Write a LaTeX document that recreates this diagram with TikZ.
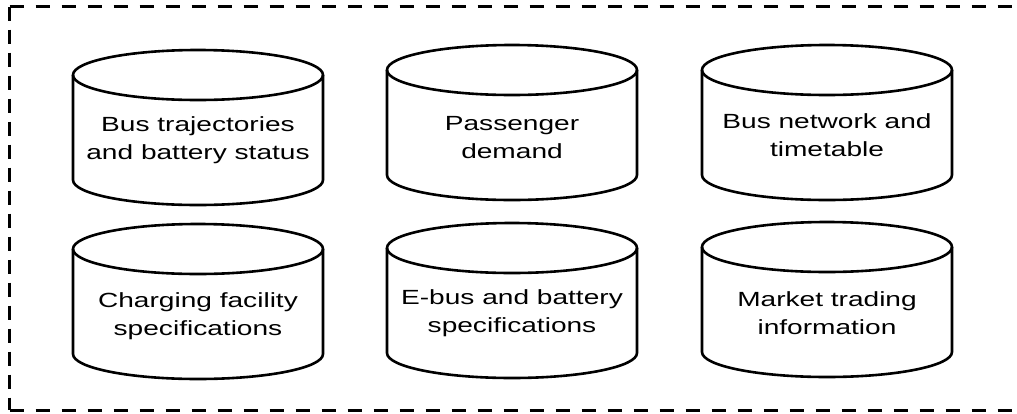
\documentclass[tikz,border=0pt]{standalone}
\usepackage{fontspec}
\setmainfont{Liberation Sans}[FakeStretch=1.37]
\tikzset{
  cyl/.style = {line width=2.6pt},
  cyltext/.style = {font=\fontsize{20.5}{28}\selectfont, align=center, inner sep=0pt, anchor=base},
  frame/.style = {line width=3pt}
}
\begin{document}
\begin{tikzpicture}[x=1pt, y=-1pt]
  \useasboundingbox (0,0) rectangle (1017,413);
  \clip (0,0) rectangle (1017,413);
  % dashed frame (right side runs off the picture)
  \coordinate (tl) at (9.5,6.5);
  \coordinate (bl) at (9.5,410);
  \draw[frame, dash pattern=on 14pt off 12pt] (tl) -- (1030,6.5);
  \draw[frame, dash pattern=on 14pt off 12pt] (bl) -- (1030,410);
  \draw[frame, dash pattern=on 14pt off 9pt] (tl) -- (bl);
  % data stores: name / centre x / centre y of top ellipse / last baseline / text
  \foreach \name/\cx/\cy/\by/\txt in {
      traj/198/75/159/{Bus trajectories\\and battery status},
      demand/512/70/158/{Passenger\\demand},
      network/827/70/156/{Bus network and\\timetable},
      charger/198/249/335/{Charging facility\\specifications},
      ebus/512/248/332/{E-bus and battery\\specifications},
      market/827/247/334/{Market trading\\information}}{
    % top ellipse
    \draw[cyl] (\cx,\cy) ellipse [x radius=125, y radius=25];
    % sides and bottom arc
    \draw[cyl] (\cx-125,\cy) -- (\cx-125,\cy+105)
      arc [start angle=180, end angle=0, x radius=125, y radius=25]
      -- (\cx+125,\cy);
    % label
    \node[cyltext] (\name) at (\cx,\by) {\txt};
  }
\end{tikzpicture}
\end{document}
